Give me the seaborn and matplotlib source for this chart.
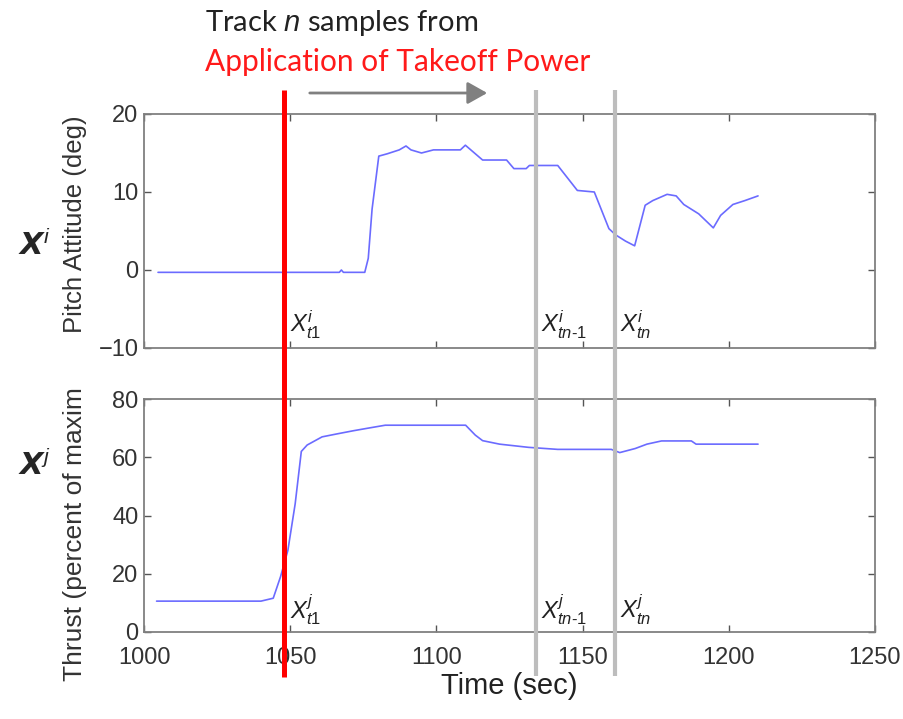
import numpy as np
import pandas as pd
import matplotlib
matplotlib.use("Agg")
import matplotlib.pyplot as plt
import matplotlib.transforms as mtransforms
from matplotlib.lines import Line2D
from matplotlib.patches import FancyArrowPatch
import seaborn as sns

# ---------------- data ----------------
pitch_time = [1004.8, 1066.8, 1067.5, 1068.2, 1075.5, 1076.7, 1078.0, 1080.3, 1083.2, 1087.3,
              1089.6, 1091.3, 1094.9, 1099.0, 1108.2, 1109.9, 1115.8, 1124.0, 1126.5, 1130.7,
              1131.8, 1141.5, 1148.2, 1154.0, 1159.0, 1161.3, 1164.7, 1167.8, 1171.4, 1174.0,
              1178.9, 1182.0, 1184.6, 1189.7, 1194.7, 1197.2, 1201.4, 1205.5, 1210.0]
pitch_deg = [-0.3, -0.3, 0.0, -0.3, -0.3, 1.5, 7.8, 14.6, 14.9, 15.4,
             15.9, 15.4, 15.0, 15.4, 15.4, 16.0, 14.1, 14.1, 13.0, 13.0,
             13.4, 13.4, 10.2, 10.0, 5.3, 4.5, 3.7, 3.1, 8.3, 8.9,
             9.7, 9.5, 8.4, 7.2, 5.4, 7.0, 8.4, 8.9, 9.5]

thrust_time = [1004.3, 1040.0, 1044.2, 1046.7, 1049.2, 1051.7, 1053.8, 1055.8, 1060.9, 1065.9,
               1071.6, 1076.7, 1082.5, 1110.0, 1113.3, 1115.8, 1121.6, 1131.5, 1141.5, 1159.8,
               1162.7, 1168.0, 1172.0, 1177.0, 1187.2, 1188.8, 1210.0]
thrust_pct = [10.6, 10.6, 11.6, 19.0, 28.0, 44.0, 62.0, 64.2, 67.0, 68.0,
              69.1, 70.0, 71.0, 71.0, 67.6, 65.7, 64.5, 63.4, 62.7, 62.7,
              61.6, 63.0, 64.5, 65.6, 65.6, 64.5, 64.5]

marker_t1 = 1048.0
marker_tn1 = 1134.0
marker_tn = 1161.0

x_ticks = [1000, 1050, 1100, 1150, 1200, 1250]
pitch_ticks = [-10, 0, 10, 20]
thrust_ticks = [0, 20, 40, 60, 80]

top_labels = [r"$X^{i}_{t1}$", r"$X^{i}_{tn\text{-}1}$", r"$X^{i}_{tn}$"]
bot_labels = [r"$X^{j}_{t1}$", r"$X^{j}_{tn\text{-}1}$", r"$X^{j}_{tn}$"]

pitch_df = pd.DataFrame({"Time (sec)": pitch_time, "Pitch": pitch_deg})
thrust_df = pd.DataFrame({"Time (sec)": thrust_time, "Thrust": thrust_pct})

# ---------------- style ----------------
sns.set_style("white")
plt.rcParams["font.family"] = ["Liberation Sans", "DejaVu Sans"]
plt.rcParams["mathtext.fontset"] = "custom"
plt.rcParams["mathtext.it"] = "Liberation Sans:italic"
plt.rcParams["mathtext.rm"] = "Liberation Sans"

W, H = 904, 719
fig = plt.figure(figsize=(W / 100, H / 100), dpi=100)
ax1 = fig.add_axes([144 / W, 1 - 348 / H, 731 / W, 234 / H])
ax2 = fig.add_axes([144 / W, 1 - 632 / H, 731 / W, 233 / H])

line_color = "#6b6bff"
sns.lineplot(data=pitch_df, x="Time (sec)", y="Pitch", ax=ax1, color=line_color, lw=1.2)
sns.lineplot(data=thrust_df, x="Time (sec)", y="Thrust", ax=ax2, color=line_color, lw=1.2)

spine_c = "#808080"
for ax in (ax1, ax2):
    ax.set_xlim(1000, 1250)
    ax.set_xticks(x_ticks)
    for s in ax.spines.values():
        s.set_visible(True)
        s.set_color(spine_c)
        s.set_linewidth(1.3)
    ax.tick_params(direction="in", length=5, width=1.0, color="#555555",
                   top=True, right=True, bottom=True, left=True,
                   labelsize=17, labelcolor="#333333", pad=4)
ax2.tick_params(axis="x", pad=11)

ax1.set_ylim(-10, 20)
ax1.set_yticks(pitch_ticks)
ax1.tick_params(labelbottom=False)
ax1.set_xlabel("")
ax1.set_ylabel("Pitch Attitude (deg)", fontsize=18.5, color="#333333")
ax1.yaxis.set_label_coords(-0.078, 0.53)

ax2.set_ylim(0, 80)
ax2.set_yticks(thrust_ticks)
ax2.set_xlabel("Time (sec)", fontsize=21, color="#222222", labelpad=2)
ax2.set_ylabel("Thrust (percent of maxim", fontsize=19, color="#333333")
ax2.yaxis.set_label_coords(-0.078, 0.42)

# ---------------- vertical marker lines spanning the figure ----------------
def vline(ax, x, y0, y1, color, lw):
    tr = mtransforms.blended_transform_factory(ax.transData, fig.transFigure)
    fig.add_artist(Line2D([x, x], [y0, y1], transform=tr, color=color, lw=lw,
                          solid_capstyle="butt", zorder=5))

gray = "#bdbdbd"
vline(ax2, marker_tn1, 1 - 90 / H, 1 - 676 / H, gray, 3.0)
vline(ax2, marker_tn, 1 - 90 / H, 1 - 676 / H, gray, 3.0)
vline(ax2, marker_t1, 1 - 90 / H, 1 - 677 / H, "#ff0000", 3.6)

# ---------------- annotations ----------------
for ax, labels, yv in ((ax1, top_labels, -7.0), (ax2, bot_labels, 7.6)):
    for xv, lab in zip((marker_t1, marker_tn1, marker_tn), labels):
        ax.annotate(lab, xy=(xv, yv), xytext=(4, 0), textcoords="offset points",
                    ha="left", va="center", fontsize=17, color="#222222", zorder=6)

fig.text(0.038, 1 - 246 / H, r"$\mathbfit{X}^{i}$", fontsize=22, ha="center", va="center")
fig.text(0.038, 1 - 466 / H, r"$\mathbfit{X}^{j}$", fontsize=22, ha="center", va="center")

fig.text(205 / W, 1 - 23 / H, r"Track $\mathit{n}$ samples from", fontsize=21,
         family="Lato", color="#222222", ha="left", va="center")
fig.text(205 / W, 1 - 62 / H, "Application of Takeoff Power", fontsize=21.5, family="Lato",
         color="#ff1a1a", ha="left", va="center")

fig.add_artist(FancyArrowPatch(
    (307 / W, 1 - 93 / H), (490 / W, 1 - 93 / H), transform=fig.transFigure,
    arrowstyle="-|>,head_length=8,head_width=4.5", color="#808080", lw=2.0,
    mutation_scale=1.5))

fig.savefig("out.png", dpi=100)
